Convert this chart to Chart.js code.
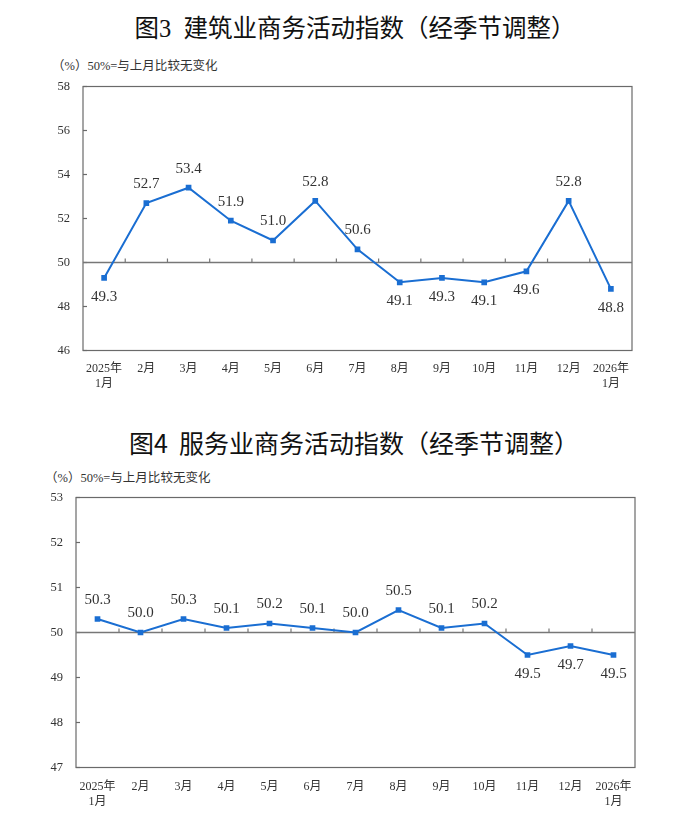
<!DOCTYPE html>
<html><head><meta charset="utf-8">
<script src="https://cdn.jsdelivr.net/npm/chart.js@4.4.0/dist/chart.umd.min.js"></script>
<style>
body{margin:0;background:#fff;width:674px;height:838px;position:relative;overflow:hidden;}
.title{position:absolute;left:0;width:710px;text-align:center;font-family:"Liberation Serif","Noto Sans CJK SC";font-size:24.5px;font-weight:400;color:#111;line-height:30px;white-space:nowrap;}
.sub{position:absolute;font-family:"Liberation Serif","Noto Sans CJK SC";font-size:12.5px;color:#333;line-height:16px;white-space:nowrap;}
.box{position:absolute;left:0;width:674px;}
</style>
</head><body>
<div class="title" style="top:14px">图3&nbsp;&nbsp;建筑业商务活动指数（经季节调整）</div>
<div class="sub" style="left:52px;top:58px">（%）50%=与上月比较无变化</div>
<div class="box" style="top:60px;height:340px"><canvas id="c1" width="674" height="340"></canvas></div>
<div class="title" style="top:427px;font-family:'Noto Sans CJK SC';font-size:25px;width:708px">图4&nbsp;&nbsp;服务业商务活动指数（经季节调整）</div>
<div class="sub" style="left:45px;top:470px">（%）50%=与上月比较无变化</div>
<div class="box" style="top:470px;height:368px"><canvas id="c2" width="674" height="368"></canvas></div>
<script>
const categories = [['2025年','1月'],'2月','3月','4月','5月','6月','7月','8月','9月','10月','11月','12月',['2026年','1月']];
const constructionValues = [49.3,52.7,53.4,51.9,51.0,52.8,50.6,49.1,49.3,49.1,49.6,52.8,48.8];
const servicesValues = [50.3,50.0,50.3,50.1,50.2,50.1,50.0,50.5,50.1,50.2,49.5,49.7,49.5];
const constructionTicks = [46,48,50,52,54,56,58];
const servicesTicks = [47,48,49,50,51,52,53];
const baseline = 50;

const LINE = '#1a6ed2';
const SERIF = '"Liberation Serif","Noto Sans CJK SC"';

function seg(ctx,x1,y1,x2,y2){ctx.beginPath();ctx.moveTo(x1,y1);ctx.lineTo(x2,y2);ctx.stroke();}

const decor = {
  id:'decor',
  beforeDatasetsDraw(chart){
    const {ctx, chartArea:a, scales:{x,y}} = chart;
    ctx.save();
    ctx.strokeStyle='#6a6a6a'; ctx.lineWidth=1.2;
    ctx.strokeRect(a.left, a.top, a.right-a.left, a.bottom-a.top);
    y.ticks.forEach((t,i)=>{const py=y.getPixelForTick(i); seg(ctx,a.left,py,a.left+4,py);});
    const py=y.getPixelForValue(baseline);
    ctx.strokeStyle='#777'; ctx.lineWidth=1.5;
    seg(ctx,a.left,py,a.right,py);
    ctx.lineWidth=1.2;
    for(let i=1;i<x.ticks.length;i++){
      const px=(x.getPixelForValue(i-1)+x.getPixelForValue(i))/2;
      seg(ctx,px,py,px,py-4);
    }
    ctx.restore();
  },
  afterDatasetsDraw(chart){
    const {ctx} = chart;
    const meta = chart.getDatasetMeta(0);
    const vals = chart.data.datasets[0].data;
    ctx.save();
    ctx.font='15px '+SERIF; ctx.fillStyle='#333'; ctx.textAlign='center'; ctx.textBaseline='middle';
    meta.data.forEach((p,i)=>{
      const v=vals[i];
      const dy = v>=baseline ? -19 : 19;
      ctx.fillText(v.toFixed(1), p.x, p.y+dy);
    });
    ctx.restore();
  }
};

function makeChart(id, values, ticks, cfg){
  const yMin=ticks[0], yMax=ticks[ticks.length-1], step=ticks[1]-ticks[0];
  return new Chart(document.getElementById(id),{
    type:'line',
    data:{labels:categories,datasets:[{data:values,borderColor:LINE,backgroundColor:LINE,borderWidth:2,tension:0,
      pointStyle:'rect',pointRadius:4,pointBackgroundColor:LINE,pointBorderColor:LINE,pointBorderWidth:0}]},
    options:{
      responsive:false,animation:false,devicePixelRatio:1,
      layout:{padding:{left:0,right:cfg.right,top:cfg.top,bottom:0}},
      plugins:{legend:{display:false},tooltip:{enabled:false}},
      scales:{
        x:{offset:true,grid:{display:false,drawTicks:false},border:{display:false},
          ticks:{autoSkip:false,maxRotation:0,minRotation:0,padding:cfg.xpad,color:'#333',font:{family:SERIF,size:12,lineHeight:1.25}},
          afterFit(s){s.height=cfg.xh;}},
        y:{min:yMin,max:yMax,grid:{display:false,drawTicks:false},border:{display:false},
          ticks:{stepSize:step,padding:13,color:'#333',font:{family:SERIF,size:12.5}},
          afterFit(s){s.width=cfg.yw;}}
      }
    },
    plugins:[decor]
  });
}
makeChart('c1', constructionValues, constructionTicks, {right:42, top:26.5, xh:49.5, yw:83, xpad:10.5});
makeChart('c2', servicesValues, servicesTicks, {right:39, top:27.5, xh:70.5, yw:76, xpad:11.5});
</script>
</body></html>
